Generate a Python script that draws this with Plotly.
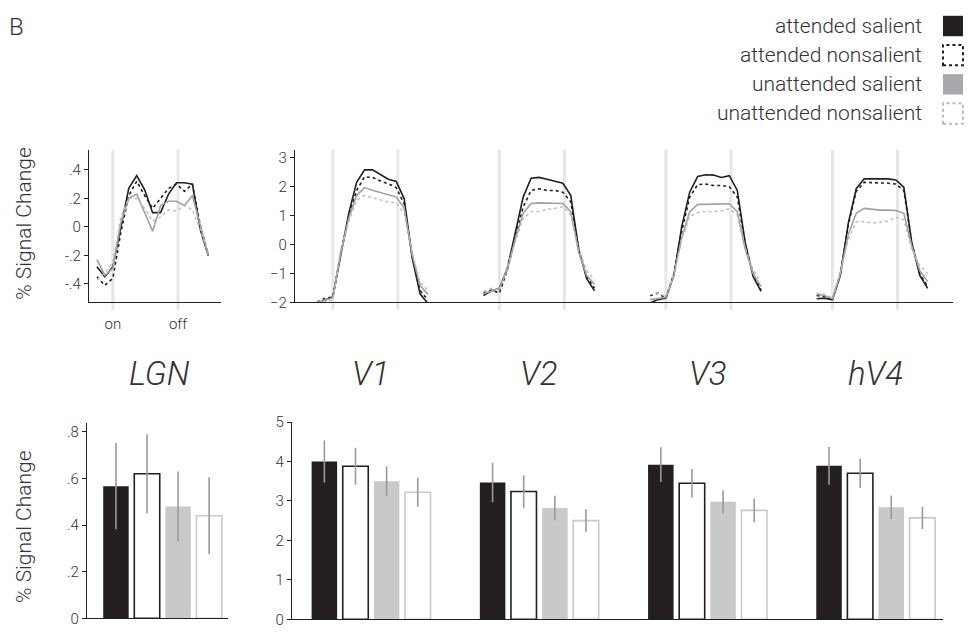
import plotly.graph_objects as go

# ---------------- data ----------------
time_idx = list(range(15))
stim_on = 2
stim_off = 10.2

lgn_att_sal = [-0.28, -0.35, -0.28, 0.0, 0.27, 0.36, 0.26, 0.10, 0.10, 0.23, 0.31, 0.31, 0.30, -0.02, -0.20]
lgn_att_non = [-0.35, -0.41, -0.36, -0.04, 0.22, 0.32, 0.22, 0.13, 0.20, 0.27, 0.30, 0.25, 0.30, 0.01, -0.20]
lgn_un_sal = [-0.23, -0.34, -0.29, 0.03, 0.20, 0.23, 0.10, -0.03, 0.15, 0.18, 0.18, 0.15, 0.22, 0.01, -0.20]
lgn_un_non = [-0.37, -0.32, -0.25, 0.07, 0.20, 0.20, 0.13, 0.04, 0.07, 0.12, 0.11, 0.15, 0.12, -0.02, -0.18]

v1_att_sal = [-2.12, -1.92, -1.81, -0.40, 1.07, 2.15, 2.58, 2.58, 2.41, 2.26, 2.18, 1.58, -0.45, -1.70, -2.04]
v1_att_non = [-1.98, -1.86, -1.81, -0.28, 0.96, 1.87, 2.34, 2.32, 2.20, 2.10, 1.97, 1.40, -0.40, -1.58, -1.92]
v1_un_sal = [-2.00, -1.92, -1.84, -0.30, 0.90, 1.70, 1.97, 1.88, 1.80, 1.72, 1.64, 1.25, -0.34, -1.41, -1.72]
v1_un_non = [-2.00, -1.96, -1.92, -0.17, 0.79, 1.53, 1.70, 1.62, 1.55, 1.47, 1.44, 1.07, -0.28, -1.30, -1.58]

v2_att_sal = [-1.76, -1.60, -1.51, -0.83, 0.40, 1.64, 2.29, 2.32, 2.26, 2.20, 2.12, 1.70, -0.16, -1.17, -1.60]
v2_att_non = [-1.68, -1.57, -1.68, -0.89, 0.24, 1.30, 1.87, 1.93, 1.87, 1.87, 1.81, 1.48, -0.16, -1.11, -1.51]
v2_un_sal = [-1.70, -1.60, -1.51, -0.89, 0.18, 1.08, 1.42, 1.44, 1.44, 1.44, 1.42, 1.14, -0.27, -1.06, -1.37]
v2_un_non = [-1.62, -1.51, -1.57, -0.78, 0.07, 0.91, 1.14, 1.14, 1.22, 1.25, 1.31, 1.02, -0.16, -0.89, -1.23]

v3_att_sal = [-2.02, -1.90, -1.85, -1.06, 0.63, 1.81, 2.35, 2.41, 2.40, 2.32, 2.38, 1.87, 0.07, -1.11, -1.62]
v3_att_non = [-1.76, -1.68, -1.85, -1.00, 0.46, 1.64, 2.07, 2.09, 2.04, 2.04, 2.00, 1.64, 0.01, -1.00, -1.57]
v3_un_sal = [-1.90, -1.85, -1.82, -1.06, 0.24, 1.14, 1.39, 1.39, 1.39, 1.41, 1.41, 1.14, -0.16, -1.00, -1.45]
v3_un_non = [-1.73, -1.68, -1.79, -1.00, 0.18, 0.97, 1.11, 1.14, 1.14, 1.16, 1.24, 1.02, -0.10, -0.89, -1.28]

hv4_att_sal = [-1.87, -1.85, -1.91, -1.06, 0.74, 1.93, 2.27, 2.27, 2.27, 2.27, 2.23, 1.98, 0.07, -1.06, -1.51]
hv4_att_non = [-1.76, -1.79, -1.89, -1.00, 0.69, 1.84, 2.15, 2.15, 2.13, 2.12, 2.09, 1.87, 0.07, -1.00, -1.45]
hv4_un_sal = [-1.71, -1.76, -1.87, -1.00, 0.35, 1.08, 1.25, 1.22, 1.19, 1.19, 1.18, 1.08, -0.05, -0.89, -1.28]
hv4_un_non = [-1.68, -1.71, -1.85, -0.95, 0.18, 0.78, 0.80, 0.74, 0.78, 0.80, 0.95, 0.86, -0.16, -0.72, -1.00]

cortical_regions = ["V1", "V2", "V3", "hV4"]
lgn_region = ["LGN"]

lgn_bar_values = [0.567, 0.62, 0.48, 0.44]
lgn_bar_errors = [0.185, 0.17, 0.15, 0.165]

bar_att_sal = [4.00, 3.47, 3.92, 3.89]
bar_att_non = [3.88, 3.24, 3.45, 3.70]
bar_un_sal = [3.50, 2.82, 2.98, 2.84]
bar_un_non = [3.22, 2.50, 2.76, 2.57]
err_att_sal = [0.53, 0.50, 0.44, 0.48]
err_att_non = [0.47, 0.41, 0.36, 0.37]
err_un_sal = [0.38, 0.31, 0.29, 0.30]
err_un_non = [0.37, 0.29, 0.30, 0.28]

condition_names = ["attended salient", "attended nonsalient", "unattended salient", "unattended nonsalient"]

lgn_ticks = [-0.4, -0.2, 0, 0.2, 0.4]
lgn_ticktext = ["-.4", "-.2", "0", ".2", ".4"]
ctx_ticks = [-2, -1, 0, 1, 2, 3]
lgn_bar_ticks = [0, 0.2, 0.4, 0.6, 0.8]
lgn_bar_ticktext = ["0", ".2", ".4", ".6", ".8"]
ctx_bar_ticks = [0, 1, 2, 3, 4, 5]

# ---------------- style ----------------
W, H = 973, 639
FONT = "Roboto, Liberation Sans, sans-serif"
WEIGHT = 300
TXT = "#333333"
BLACK = "#231f20"
GRAY = "#9fa1a4"
LGRAY = "#b9babc"
BARGRAY = "#c8c9cb"
SWGRAY = "#a7a9ac"
ERR = "#9a9a9a"
REGION_STEP = 21  # time steps between region traces on the shared axis


def px_x(a, b):
    return [a / W, b / W]


def px_y(top, bottom):
    return [1 - bottom / H, 1 - top / H]


def fnt(size):
    return dict(family=FONT, size=size, color=TXT, weight=WEIGHT)


line_styles = [
    dict(color=BLACK, width=1.6, dash="solid"),
    dict(color=BLACK, width=1.6, dash="dot"),
    dict(color=GRAY, width=1.6, dash="solid"),
    dict(color=LGRAY, width=1.4, dash="dot"),
]

fig = go.Figure()

# top LGN time course
for ys, st, nm in zip([lgn_att_sal, lgn_att_non, lgn_un_sal, lgn_un_non], line_styles, condition_names):
    fig.add_trace(go.Scatter(x=time_idx, y=ys, mode="lines", line=st, name=nm,
                             showlegend=False, xaxis="x", yaxis="y"))

# top cortical time courses
ctx_series = [
    [v1_att_sal, v2_att_sal, v3_att_sal, hv4_att_sal],
    [v1_att_non, v2_att_non, v3_att_non, hv4_att_non],
    [v1_un_sal, v2_un_sal, v3_un_sal, hv4_un_sal],
    [v1_un_non, v2_un_non, v3_un_non, hv4_un_non],
]
for series, st, nm in zip(ctx_series, line_styles, condition_names):
    for r, ys in enumerate(series):
        xs = [t + r * REGION_STEP for t in time_idx]
        fig.add_trace(go.Scatter(x=xs, y=ys, mode="lines", line=st, name=nm,
                                 showlegend=False, xaxis="x2", yaxis="y2"))

# bars
bar_styles = [
    dict(color=BLACK, line=dict(color=BLACK, width=0)),
    dict(color="white", line=dict(color=BLACK, width=1.6)),
    dict(color=BARGRAY, line=dict(color=BARGRAY, width=0)),
    dict(color="white", line=dict(color=BARGRAY, width=1.6)),
]
for i, (st, nm) in enumerate(zip(bar_styles, condition_names)):
    fig.add_trace(go.Bar(x=lgn_region, y=[lgn_bar_values[i]], marker=st, name=nm,
                         error_y=dict(type="data", array=[lgn_bar_errors[i]], color=ERR,
                                      thickness=1.6, width=0),
                         showlegend=False, xaxis="x3", yaxis="y3"))
for vals, errs, st, nm in zip([bar_att_sal, bar_att_non, bar_un_sal, bar_un_non],
                              [err_att_sal, err_att_non, err_un_sal, err_un_non],
                              bar_styles, condition_names):
    fig.add_trace(go.Bar(x=cortical_regions, y=vals, marker=st, name=nm,
                         error_y=dict(type="data", array=errs, color=ERR, thickness=1.6, width=0),
                         showlegend=False, xaxis="x4", yaxis="y4"))

axis_common = dict(showline=True, linecolor=BLACK, linewidth=1.3, showgrid=False, zeroline=False,
                   tickfont=fnt(15))

fig.update_layout(
    width=W, height=H, autosize=False,
    margin=dict(l=0, r=0, t=0, b=0),
    paper_bgcolor="white", plot_bgcolor="white",
    barmode="group", bargap=0.26, bargroupgap=0.18,
    font=dict(family=FONT, color=TXT),
    xaxis=dict(domain=px_x(89, 221), range=[-1.0, 15.6], anchor="y",
               tickvals=[stim_on, stim_off], ticktext=["on", "off"], ticks="outside",
               ticklen=7, tickcolor="rgba(0,0,0,0)", **axis_common),
    yaxis=dict(domain=px_y(145, 302), range=[-0.53, 0.54], anchor="x",
               tickvals=lgn_ticks, ticktext=lgn_ticktext, ticks="outside", ticklen=4,
               tickcolor=BLACK, **axis_common),
    xaxis2=dict(domain=px_x(295, 953), range=[-2.77, 80.2], anchor="y2",
                showticklabels=False, ticks="", **axis_common),
    yaxis2=dict(domain=px_y(145, 302), range=[-2.0, 3.27], anchor="x2",
                tickvals=ctx_ticks, ticks="outside", ticklen=4, tickcolor=BLACK, **axis_common),
    xaxis3=dict(domain=px_x(87, 228), range=[-0.45, 0.39], anchor="y3",
                showticklabels=False, ticks="", **axis_common),
    yaxis3=dict(domain=px_y(426, 627), range=[0, 0.838], anchor="x3",
                tickvals=lgn_bar_ticks, ticktext=lgn_bar_ticktext, ticks="outside", ticklen=4,
                tickcolor=BLACK, **axis_common),
    xaxis4=dict(domain=px_x(292, 943), range=[-0.47, 3.40], anchor="y4",
                showticklabels=False, ticks="", **axis_common),
    yaxis4=dict(domain=px_y(425, 628), range=[0, 5], anchor="x4",
                tickvals=ctx_bar_ticks, ticks="outside", ticklen=4, tickcolor=BLACK, **axis_common),
)

# on / off markers
shapes = []
for xv in [stim_on, stim_off]:
    shapes.append(dict(type="line", xref="x", yref="y domain", x0=xv, x1=xv, y0=-0.05, y1=1.0,
                       line=dict(color="#e6e7e8", width=3), layer="below"))
for r in range(len(cortical_regions)):
    for xv in [stim_on, stim_off]:
        xx = xv + r * REGION_STEP
        shapes.append(dict(type="line", xref="x2", yref="y2 domain", x0=xx, x1=xx, y0=-0.05, y1=1.0,
                           line=dict(color="#e6e7e8", width=3), layer="below"))

# legend swatches (drawn manually: text left of swatch)
legend_y = [(7, 28), (37, 58), (67, 88), (97, 118)]
swatch = [
    dict(fillcolor=BLACK, line=dict(color=BLACK, width=0)),
    dict(fillcolor="white", line=dict(color=BLACK, width=2, dash="dot")),
    dict(fillcolor=SWGRAY, line=dict(color=SWGRAY, width=0)),
    dict(fillcolor="white", line=dict(color=LGRAY, width=2, dash="dot")),
]
annotations = []
for (t, b), sw, nm in zip(legend_y, swatch, condition_names):
    shapes.append(dict(type="rect", xref="paper", yref="paper", x0=943 / W, x1=963 / W,
                       y0=1 - b / H, y1=1 - t / H, **sw))
    annotations.append(dict(text=nm, xref="paper", yref="paper", x=924 / W, y=1 - (t + b) / 2 / H,
                            xanchor="right", yanchor="middle", showarrow=False, font=fnt(21)))

annotations.append(dict(text="B", xref="paper", yref="paper", x=7 / W, y=1 - 19 / H,
                        xanchor="left", yanchor="middle", showarrow=False, font=fnt(24)))
for yc in [221, 533]:
    annotations.append(dict(text="% Signal Change", xref="paper", yref="paper", x=24 / W, y=1 - yc / H,
                            xanchor="center", yanchor="middle", textangle=-90, showarrow=False,
                            font=fnt(21)))
annotations.append(dict(text="<i>LGN</i>", xref="x3", yref="paper", x=-0.02, y=1 - 375 / H,
                        xanchor="center", yanchor="middle", showarrow=False, font=fnt(33)))
for i, rg in enumerate(cortical_regions):
    annotations.append(dict(text="<i>" + rg + "</i>", xref="x4", yref="paper", x=i, y=1 - 375 / H,
                            xanchor="center", yanchor="middle", showarrow=False, font=fnt(33)))

fig.update_layout(shapes=shapes, annotations=annotations)
fig.write_html("out.html", config={"displayModeBar": False},
               post_script="document.body.style.margin='0';document.body.style.overflow='hidden';")
